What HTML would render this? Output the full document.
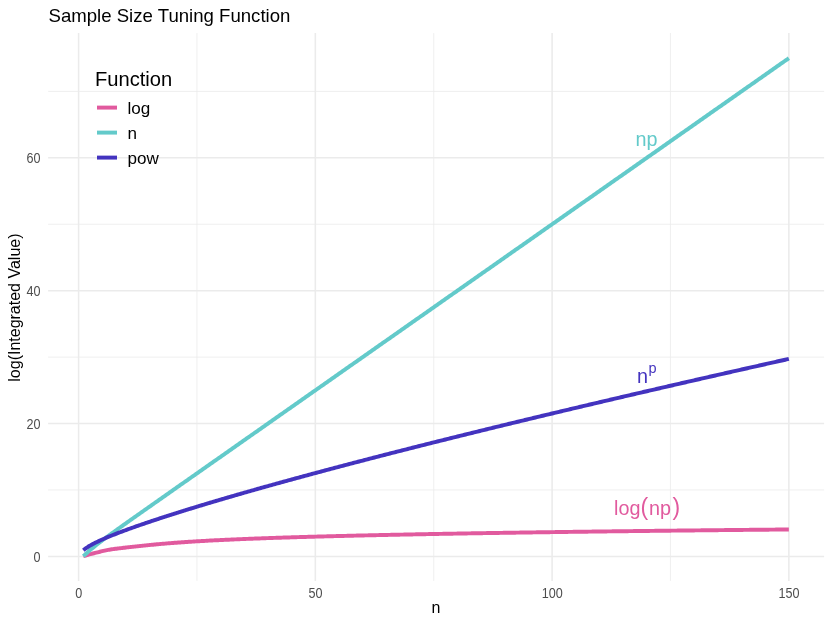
<!DOCTYPE html>
<html><head><meta charset="utf-8"><title>Sample Size Tuning Function</title>
<style>
html,body{margin:0;padding:0;background:#fff;}
body{width:832px;height:624px;overflow:hidden;font-family:"Liberation Sans",sans-serif;}
svg{display:block;will-change:transform;font-family:"Liberation Sans",sans-serif;}
</style></head><body>
<svg width="832" height="624" viewBox="0 0 832 624">
<rect width="832" height="624" fill="#ffffff"/>
<g id="grid" shape-rendering="auto">
<line x1="48.10" x2="824.10" y1="489.97" y2="489.97" stroke="#EBEBEB" stroke-width="0.78"/>
<line x1="48.10" x2="824.10" y1="357.11" y2="357.11" stroke="#EBEBEB" stroke-width="0.78"/>
<line x1="48.10" x2="824.10" y1="224.25" y2="224.25" stroke="#EBEBEB" stroke-width="0.78"/>
<line x1="48.10" x2="824.10" y1="91.39" y2="91.39" stroke="#EBEBEB" stroke-width="0.78"/>
<line x1="196.98" x2="196.98" y1="33.10" y2="580.90" stroke="#EBEBEB" stroke-width="0.78"/>
<line x1="433.73" x2="433.73" y1="33.10" y2="580.90" stroke="#EBEBEB" stroke-width="0.78"/>
<line x1="670.48" x2="670.48" y1="33.10" y2="580.90" stroke="#EBEBEB" stroke-width="0.78"/>
<line x1="48.10" x2="824.10" y1="556.40" y2="556.40" stroke="#EBEBEB" stroke-width="1.55"/>
<line x1="48.10" x2="824.10" y1="423.54" y2="423.54" stroke="#EBEBEB" stroke-width="1.55"/>
<line x1="48.10" x2="824.10" y1="290.68" y2="290.68" stroke="#EBEBEB" stroke-width="1.55"/>
<line x1="48.10" x2="824.10" y1="157.82" y2="157.82" stroke="#EBEBEB" stroke-width="1.55"/>
<line x1="78.60" x2="78.60" y1="33.10" y2="580.90" stroke="#EBEBEB" stroke-width="1.55"/>
<line x1="315.35" x2="315.35" y1="33.10" y2="580.90" stroke="#EBEBEB" stroke-width="1.55"/>
<line x1="552.10" x2="552.10" y1="33.10" y2="580.90" stroke="#EBEBEB" stroke-width="1.55"/>
<line x1="788.85" x2="788.85" y1="33.10" y2="580.90" stroke="#EBEBEB" stroke-width="1.55"/>
</g>
<g id="curves" fill="none" stroke-width="3.95" stroke-linejoin="round" stroke-linecap="butt">
<path d="M83.33 556.16 L84.52 555.89 L85.70 555.55 L86.89 555.19 L88.07 554.83 L89.25 554.48 L90.44 554.15 L91.62 553.83 L92.80 553.53 L93.99 553.24 L95.17 552.94 L96.36 552.65 L97.54 552.35 L98.72 552.05 L99.91 551.74 L101.09 551.44 L102.27 551.15 L103.46 550.86 L104.64 550.59 L105.83 550.34 L107.01 550.10 L108.19 549.88 L109.38 549.68 L110.56 549.49 L111.75 549.31 L112.93 549.14 L114.11 548.98 L115.30 548.82 L116.48 548.67 L117.66 548.52 L118.85 548.37 L120.03 548.23 L121.22 548.09 L122.40 547.95 L123.58 547.81 L124.77 547.67 L125.95 547.53 L127.13 547.40 L128.32 547.26 L129.50 547.13 L130.69 547.00 L131.87 546.86 L133.05 546.73 L134.24 546.60 L135.42 546.47 L136.60 546.34 L137.79 546.21 L138.97 546.09 L140.16 545.96 L141.34 545.84 L142.52 545.71 L143.71 545.59 L144.89 545.47 L146.07 545.35 L147.26 545.23 L148.44 545.11 L149.62 545.00 L150.81 544.88 L151.99 544.77 L153.18 544.66 L154.36 544.54 L155.54 544.43 L156.73 544.33 L157.91 544.22 L159.09 544.11 L160.28 544.01 L161.46 543.90 L162.65 543.80 L163.83 543.70 L165.01 543.60 L166.20 543.50 L167.38 543.40 L168.56 543.31 L169.75 543.21 L170.93 543.12 L172.12 543.03 L173.30 542.93 L174.48 542.84 L175.67 542.76 L176.85 542.67 L178.03 542.58 L179.22 542.49 L180.40 542.41 L181.59 542.33 L182.77 542.24 L183.95 542.16 L185.14 542.08 L186.32 542.00 L187.50 541.92 L188.69 541.84 L189.87 541.77 L191.06 541.69 L192.24 541.62 L193.42 541.54 L194.61 541.47 L195.79 541.40 L196.98 541.33 L198.16 541.25 L199.34 541.18 L200.53 541.12 L201.71 541.05 L202.89 540.98 L204.08 540.91 L205.26 540.85 L206.44 540.78 L207.63 540.72 L208.81 540.65 L210.00 540.59 L211.18 540.53 L212.36 540.46 L213.55 540.40 L214.73 540.34 L215.91 540.28 L217.10 540.22 L218.28 540.16 L219.47 540.11 L220.65 540.05 L221.83 539.99 L223.02 539.93 L224.20 539.88 L225.38 539.82 L226.57 539.77 L227.75 539.71 L228.94 539.66 L230.12 539.61 L231.30 539.55 L232.49 539.50 L233.67 539.45 L234.86 539.40 L236.04 539.35 L237.22 539.29 L238.41 539.24 L239.59 539.19 L240.77 539.14 L241.96 539.10 L243.14 539.05 L244.33 539.00 L245.51 538.95 L246.69 538.90 L247.88 538.86 L249.06 538.81 L250.24 538.76 L251.43 538.72 L252.61 538.67 L253.80 538.63 L254.98 538.58 L256.16 538.54 L257.35 538.49 L258.53 538.45 L259.71 538.41 L260.90 538.36 L262.08 538.32 L263.26 538.28 L264.45 538.23 L265.63 538.19 L266.82 538.15 L268.00 538.11 L269.18 538.07 L270.37 538.03 L271.55 537.99 L272.74 537.95 L273.92 537.90 L275.10 537.87 L276.29 537.83 L277.47 537.79 L278.65 537.75 L279.84 537.71 L281.02 537.67 L282.21 537.63 L283.39 537.59 L284.57 537.56 L285.76 537.52 L286.94 537.48 L288.12 537.44 L289.31 537.41 L290.49 537.37 L291.68 537.33 L292.86 537.30 L294.04 537.26 L295.23 537.22 L296.41 537.19 L297.59 537.15 L298.78 537.12 L299.96 537.08 L301.14 537.05 L302.33 537.01 L303.51 536.98 L304.70 536.94 L305.88 536.91 L307.06 536.88 L308.25 536.84 L309.43 536.81 L310.62 536.78 L311.80 536.74 L312.98 536.71 L314.17 536.68 L315.35 536.64 L316.53 536.61 L317.72 536.58 L318.90 536.55 L320.09 536.51 L321.27 536.48 L322.45 536.45 L323.64 536.42 L324.82 536.39 L326.00 536.36 L327.19 536.33 L328.37 536.29 L329.56 536.26 L330.74 536.23 L331.92 536.20 L333.11 536.17 L334.29 536.14 L335.47 536.11 L336.66 536.08 L337.84 536.05 L339.02 536.02 L340.21 535.99 L341.39 535.96 L342.58 535.93 L343.76 535.91 L344.94 535.88 L346.13 535.85 L347.31 535.82 L348.50 535.79 L349.68 535.76 L350.86 535.73 L352.05 535.71 L353.23 535.68 L354.41 535.65 L355.60 535.62 L356.78 535.59 L357.97 535.57 L359.15 535.54 L360.33 535.51 L361.52 535.48 L362.70 535.46 L363.88 535.43 L365.07 535.40 L366.25 535.38 L367.44 535.35 L368.62 535.32 L369.80 535.30 L370.99 535.27 L372.17 535.24 L373.35 535.22 L374.54 535.19 L375.72 535.17 L376.90 535.14 L378.09 535.11 L379.27 535.09 L380.46 535.06 L381.64 535.04 L382.82 535.01 L384.01 534.99 L385.19 534.96 L386.38 534.94 L387.56 534.91 L388.74 534.89 L389.93 534.86 L391.11 534.84 L392.29 534.81 L393.48 534.79 L394.66 534.76 L395.85 534.74 L397.03 534.71 L398.21 534.69 L399.40 534.67 L400.58 534.64 L401.76 534.62 L402.95 534.60 L404.13 534.57 L405.32 534.55 L406.50 534.52 L407.68 534.50 L408.87 534.48 L410.05 534.45 L411.23 534.43 L412.42 534.41 L413.60 534.38 L414.78 534.36 L415.97 534.34 L417.15 534.32 L418.34 534.29 L419.52 534.27 L420.70 534.25 L421.89 534.23 L423.07 534.20 L424.25 534.18 L425.44 534.16 L426.62 534.14 L427.81 534.11 L428.99 534.09 L430.17 534.07 L431.36 534.05 L432.54 534.03 L433.73 534.01 L434.91 533.98 L436.09 533.96 L437.28 533.94 L438.46 533.92 L439.64 533.90 L440.83 533.88 L442.01 533.85 L443.20 533.83 L444.38 533.81 L445.56 533.79 L446.75 533.77 L447.93 533.75 L449.11 533.73 L450.30 533.71 L451.48 533.69 L452.66 533.67 L453.85 533.65 L455.03 533.63 L456.22 533.61 L457.40 533.58 L458.58 533.56 L459.77 533.54 L460.95 533.52 L462.13 533.50 L463.32 533.48 L464.50 533.46 L465.69 533.44 L466.87 533.42 L468.05 533.40 L469.24 533.38 L470.42 533.36 L471.61 533.34 L472.79 533.33 L473.97 533.31 L475.16 533.29 L476.34 533.27 L477.52 533.25 L478.71 533.23 L479.89 533.21 L481.08 533.19 L482.26 533.17 L483.44 533.15 L484.63 533.13 L485.81 533.11 L486.99 533.09 L488.18 533.08 L489.36 533.06 L490.55 533.04 L491.73 533.02 L492.91 533.00 L494.10 532.98 L495.28 532.96 L496.46 532.94 L497.65 532.93 L498.83 532.91 L500.01 532.89 L501.20 532.87 L502.38 532.85 L503.57 532.83 L504.75 532.82 L505.93 532.80 L507.12 532.78 L508.30 532.76 L509.49 532.74 L510.67 532.73 L511.85 532.71 L513.04 532.69 L514.22 532.67 L515.40 532.66 L516.59 532.64 L517.77 532.62 L518.96 532.60 L520.14 532.58 L521.32 532.57 L522.51 532.55 L523.69 532.53 L524.87 532.52 L526.06 532.50 L527.24 532.48 L528.43 532.46 L529.61 532.45 L530.79 532.43 L531.98 532.41 L533.16 532.39 L534.34 532.38 L535.53 532.36 L536.71 532.34 L537.89 532.33 L539.08 532.31 L540.26 532.29 L541.45 532.28 L542.63 532.26 L543.81 532.24 L545.00 532.23 L546.18 532.21 L547.37 532.19 L548.55 532.18 L549.73 532.16 L550.92 532.14 L552.10 532.13 L553.28 532.11 L554.47 532.10 L555.65 532.08 L556.84 532.06 L558.02 532.05 L559.20 532.03 L560.39 532.01 L561.57 532.00 L562.75 531.98 L563.94 531.97 L565.12 531.95 L566.31 531.93 L567.49 531.92 L568.67 531.90 L569.86 531.89 L571.04 531.87 L572.22 531.86 L573.41 531.84 L574.59 531.82 L575.77 531.81 L576.96 531.79 L578.14 531.78 L579.33 531.76 L580.51 531.75 L581.69 531.73 L582.88 531.72 L584.06 531.70 L585.25 531.69 L586.43 531.67 L587.61 531.66 L588.80 531.64 L589.98 531.62 L591.16 531.61 L592.35 531.59 L593.53 531.58 L594.72 531.56 L595.90 531.55 L597.08 531.53 L598.27 531.52 L599.45 531.50 L600.63 531.49 L601.82 531.47 L603.00 531.46 L604.19 531.45 L605.37 531.43 L606.55 531.42 L607.74 531.40 L608.92 531.39 L610.10 531.37 L611.29 531.36 L612.47 531.34 L613.66 531.33 L614.84 531.31 L616.02 531.30 L617.21 531.29 L618.39 531.27 L619.57 531.26 L620.76 531.24 L621.94 531.23 L623.13 531.21 L624.31 531.20 L625.49 531.19 L626.68 531.17 L627.86 531.16 L629.04 531.14 L630.23 531.13 L631.41 531.11 L632.60 531.10 L633.78 531.09 L634.96 531.07 L636.15 531.06 L637.33 531.04 L638.51 531.03 L639.70 531.02 L640.88 531.00 L642.07 530.99 L643.25 530.98 L644.43 530.96 L645.62 530.95 L646.80 530.93 L647.98 530.92 L649.17 530.91 L650.35 530.89 L651.54 530.88 L652.72 530.87 L653.90 530.85 L655.09 530.84 L656.27 530.83 L657.45 530.81 L658.64 530.80 L659.82 530.79 L661.01 530.77 L662.19 530.76 L663.37 530.75 L664.56 530.73 L665.74 530.72 L666.92 530.71 L668.11 530.69 L669.29 530.68 L670.48 530.67 L671.66 530.65 L672.84 530.64 L674.03 530.63 L675.21 530.61 L676.39 530.60 L677.58 530.59 L678.76 530.58 L679.95 530.56 L681.13 530.55 L682.31 530.54 L683.50 530.52 L684.68 530.51 L685.86 530.50 L687.05 530.49 L688.23 530.47 L689.42 530.46 L690.60 530.45 L691.78 530.44 L692.97 530.42 L694.15 530.41 L695.33 530.40 L696.52 530.38 L697.70 530.37 L698.89 530.36 L700.07 530.35 L701.25 530.33 L702.44 530.32 L703.62 530.31 L704.80 530.30 L705.99 530.28 L707.17 530.27 L708.36 530.26 L709.54 530.25 L710.72 530.24 L711.91 530.22 L713.09 530.21 L714.27 530.20 L715.46 530.19 L716.64 530.17 L717.83 530.16 L719.01 530.15 L720.19 530.14 L721.38 530.13 L722.56 530.11 L723.74 530.10 L724.93 530.09 L726.11 530.08 L727.30 530.07 L728.48 530.05 L729.66 530.04 L730.85 530.03 L732.03 530.02 L733.21 530.01 L734.40 529.99 L735.58 529.98 L736.77 529.97 L737.95 529.96 L739.13 529.95 L740.32 529.94 L741.50 529.92 L742.68 529.91 L743.87 529.90 L745.05 529.89 L746.24 529.88 L747.42 529.86 L748.60 529.85 L749.79 529.84 L750.97 529.83 L752.15 529.82 L753.34 529.81 L754.52 529.80 L755.71 529.78 L756.89 529.77 L758.07 529.76 L759.26 529.75 L760.44 529.74 L761.62 529.73 L762.81 529.72 L763.99 529.70 L765.18 529.69 L766.36 529.68 L767.54 529.67 L768.73 529.66 L769.91 529.65 L771.09 529.64 L772.28 529.63 L773.46 529.61 L774.65 529.60 L775.83 529.59 L777.01 529.58 L778.20 529.57 L779.38 529.56 L780.56 529.55 L781.75 529.54 L782.93 529.53 L784.12 529.51 L785.30 529.50 L786.48 529.49 L787.67 529.48 L788.85 529.47" stroke="#E15A9E"/>
<path d="M83.33 556.27 L84.52 555.13 L85.70 554.03 L86.89 552.95 L88.07 551.89 L89.25 550.86 L90.44 549.85 L91.62 548.85 L92.80 547.87 L93.99 546.90 L95.17 545.95 L96.36 545.01 L97.54 544.07 L98.72 543.15 L99.91 542.24 L101.09 541.33 L102.27 540.44 L103.46 539.54 L104.64 538.66 L105.83 537.78 L107.01 536.90 L108.19 536.03 L109.38 535.16 L110.56 534.30 L111.75 533.44 L112.93 532.58 L114.11 531.73 L115.30 530.87 L116.48 530.02 L117.66 529.17 L118.85 528.33 L120.03 527.48 L121.22 526.64 L122.40 525.79 L123.58 524.95 L124.77 524.11 L125.95 523.27 L127.13 522.43 L128.32 521.60 L129.50 520.76 L130.69 519.92 L131.87 519.09 L133.05 518.25 L134.24 517.42 L135.42 516.58 L136.60 515.75 L137.79 514.91 L138.97 514.08 L140.16 513.25 L141.34 512.41 L142.52 511.58 L143.71 510.75 L144.89 509.92 L146.07 509.08 L147.26 508.25 L148.44 507.42 L149.62 506.59 L150.81 505.76 L151.99 504.93 L153.18 504.10 L154.36 503.26 L155.54 502.43 L156.73 501.60 L157.91 500.77 L159.09 499.94 L160.28 499.11 L161.46 498.28 L162.65 497.45 L163.83 496.62 L165.01 495.79 L166.20 494.96 L167.38 494.12 L168.56 493.29 L169.75 492.46 L170.93 491.63 L172.12 490.80 L173.30 489.97 L174.48 489.14 L175.67 488.31 L176.85 487.48 L178.03 486.65 L179.22 485.82 L180.40 484.99 L181.59 484.16 L182.77 483.33 L183.95 482.50 L185.14 481.67 L186.32 480.84 L187.50 480.01 L188.69 479.18 L189.87 478.35 L191.06 477.51 L192.24 476.68 L193.42 475.85 L194.61 475.02 L195.79 474.19 L196.98 473.36 L198.16 472.53 L199.34 471.70 L200.53 470.87 L201.71 470.04 L202.89 469.21 L204.08 468.38 L205.26 467.55 L206.44 466.72 L207.63 465.89 L208.81 465.06 L210.00 464.23 L211.18 463.40 L212.36 462.57 L213.55 461.74 L214.73 460.91 L215.91 460.08 L217.10 459.25 L218.28 458.42 L219.47 457.59 L220.65 456.76 L221.83 455.92 L223.02 455.09 L224.20 454.26 L225.38 453.43 L226.57 452.60 L227.75 451.77 L228.94 450.94 L230.12 450.11 L231.30 449.28 L232.49 448.45 L233.67 447.62 L234.86 446.79 L236.04 445.96 L237.22 445.13 L238.41 444.30 L239.59 443.47 L240.77 442.64 L241.96 441.81 L243.14 440.98 L244.33 440.15 L245.51 439.32 L246.69 438.49 L247.88 437.66 L249.06 436.83 L250.24 436.00 L251.43 435.17 L252.61 434.33 L253.80 433.50 L254.98 432.67 L256.16 431.84 L257.35 431.01 L258.53 430.18 L259.71 429.35 L260.90 428.52 L262.08 427.69 L263.26 426.86 L264.45 426.03 L265.63 425.20 L266.82 424.37 L268.00 423.54 L269.18 422.71 L270.37 421.88 L271.55 421.05 L272.74 420.22 L273.92 419.39 L275.10 418.56 L276.29 417.73 L277.47 416.90 L278.65 416.07 L279.84 415.24 L281.02 414.41 L282.21 413.58 L283.39 412.75 L284.57 411.91 L285.76 411.08 L286.94 410.25 L288.12 409.42 L289.31 408.59 L290.49 407.76 L291.68 406.93 L292.86 406.10 L294.04 405.27 L295.23 404.44 L296.41 403.61 L297.59 402.78 L298.78 401.95 L299.96 401.12 L301.14 400.29 L302.33 399.46 L303.51 398.63 L304.70 397.80 L305.88 396.97 L307.06 396.14 L308.25 395.31 L309.43 394.48 L310.62 393.65 L311.80 392.82 L312.98 391.99 L314.17 391.16 L315.35 390.33 L316.53 389.49 L317.72 388.66 L318.90 387.83 L320.09 387.00 L321.27 386.17 L322.45 385.34 L323.64 384.51 L324.82 383.68 L326.00 382.85 L327.19 382.02 L328.37 381.19 L329.56 380.36 L330.74 379.53 L331.92 378.70 L333.11 377.87 L334.29 377.04 L335.47 376.21 L336.66 375.38 L337.84 374.55 L339.02 373.72 L340.21 372.89 L341.39 372.06 L342.58 371.23 L343.76 370.40 L344.94 369.57 L346.13 368.74 L347.31 367.90 L348.50 367.07 L349.68 366.24 L350.86 365.41 L352.05 364.58 L353.23 363.75 L354.41 362.92 L355.60 362.09 L356.78 361.26 L357.97 360.43 L359.15 359.60 L360.33 358.77 L361.52 357.94 L362.70 357.11 L363.88 356.28 L365.07 355.45 L366.25 354.62 L367.44 353.79 L368.62 352.96 L369.80 352.13 L370.99 351.30 L372.17 350.47 L373.35 349.64 L374.54 348.81 L375.72 347.98 L376.90 347.15 L378.09 346.32 L379.27 345.48 L380.46 344.65 L381.64 343.82 L382.82 342.99 L384.01 342.16 L385.19 341.33 L386.38 340.50 L387.56 339.67 L388.74 338.84 L389.93 338.01 L391.11 337.18 L392.29 336.35 L393.48 335.52 L394.66 334.69 L395.85 333.86 L397.03 333.03 L398.21 332.20 L399.40 331.37 L400.58 330.54 L401.76 329.71 L402.95 328.88 L404.13 328.05 L405.32 327.22 L406.50 326.39 L407.68 325.56 L408.87 324.73 L410.05 323.90 L411.23 323.06 L412.42 322.23 L413.60 321.40 L414.78 320.57 L415.97 319.74 L417.15 318.91 L418.34 318.08 L419.52 317.25 L420.70 316.42 L421.89 315.59 L423.07 314.76 L424.25 313.93 L425.44 313.10 L426.62 312.27 L427.81 311.44 L428.99 310.61 L430.17 309.78 L431.36 308.95 L432.54 308.12 L433.73 307.29 L434.91 306.46 L436.09 305.63 L437.28 304.80 L438.46 303.97 L439.64 303.14 L440.83 302.31 L442.01 301.47 L443.20 300.64 L444.38 299.81 L445.56 298.98 L446.75 298.15 L447.93 297.32 L449.11 296.49 L450.30 295.66 L451.48 294.83 L452.66 294.00 L453.85 293.17 L455.03 292.34 L456.22 291.51 L457.40 290.68 L458.58 289.85 L459.77 289.02 L460.95 288.19 L462.13 287.36 L463.32 286.53 L464.50 285.70 L465.69 284.87 L466.87 284.04 L468.05 283.21 L469.24 282.38 L470.42 281.55 L471.61 280.72 L472.79 279.89 L473.97 279.05 L475.16 278.22 L476.34 277.39 L477.52 276.56 L478.71 275.73 L479.89 274.90 L481.08 274.07 L482.26 273.24 L483.44 272.41 L484.63 271.58 L485.81 270.75 L486.99 269.92 L488.18 269.09 L489.36 268.26 L490.55 267.43 L491.73 266.60 L492.91 265.77 L494.10 264.94 L495.28 264.11 L496.46 263.28 L497.65 262.45 L498.83 261.62 L500.01 260.79 L501.20 259.96 L502.38 259.13 L503.57 258.30 L504.75 257.46 L505.93 256.63 L507.12 255.80 L508.30 254.97 L509.49 254.14 L510.67 253.31 L511.85 252.48 L513.04 251.65 L514.22 250.82 L515.40 249.99 L516.59 249.16 L517.77 248.33 L518.96 247.50 L520.14 246.67 L521.32 245.84 L522.51 245.01 L523.69 244.18 L524.87 243.35 L526.06 242.52 L527.24 241.69 L528.43 240.86 L529.61 240.03 L530.79 239.20 L531.98 238.37 L533.16 237.54 L534.34 236.71 L535.53 235.88 L536.71 235.04 L537.89 234.21 L539.08 233.38 L540.26 232.55 L541.45 231.72 L542.63 230.89 L543.81 230.06 L545.00 229.23 L546.18 228.40 L547.37 227.57 L548.55 226.74 L549.73 225.91 L550.92 225.08 L552.10 224.25 L553.28 223.42 L554.47 222.59 L555.65 221.76 L556.84 220.93 L558.02 220.10 L559.20 219.27 L560.39 218.44 L561.57 217.61 L562.75 216.78 L563.94 215.95 L565.12 215.12 L566.31 214.29 L567.49 213.46 L568.67 212.62 L569.86 211.79 L571.04 210.96 L572.22 210.13 L573.41 209.30 L574.59 208.47 L575.77 207.64 L576.96 206.81 L578.14 205.98 L579.33 205.15 L580.51 204.32 L581.69 203.49 L582.88 202.66 L584.06 201.83 L585.25 201.00 L586.43 200.17 L587.61 199.34 L588.80 198.51 L589.98 197.68 L591.16 196.85 L592.35 196.02 L593.53 195.19 L594.72 194.36 L595.90 193.53 L597.08 192.70 L598.27 191.87 L599.45 191.03 L600.63 190.20 L601.82 189.37 L603.00 188.54 L604.19 187.71 L605.37 186.88 L606.55 186.05 L607.74 185.22 L608.92 184.39 L610.10 183.56 L611.29 182.73 L612.47 181.90 L613.66 181.07 L614.84 180.24 L616.02 179.41 L617.21 178.58 L618.39 177.75 L619.57 176.92 L620.76 176.09 L621.94 175.26 L623.13 174.43 L624.31 173.60 L625.49 172.77 L626.68 171.94 L627.86 171.11 L629.04 170.28 L630.23 169.45 L631.41 168.61 L632.60 167.78 L633.78 166.95 L634.96 166.12 L636.15 165.29 L637.33 164.46 L638.51 163.63 L639.70 162.80 L640.88 161.97 L642.07 161.14 L643.25 160.31 L644.43 159.48 L645.62 158.65 L646.80 157.82 L647.98 156.99 L649.17 156.16 L650.35 155.33 L651.54 154.50 L652.72 153.67 L653.90 152.84 L655.09 152.01 L656.27 151.18 L657.45 150.35 L658.64 149.52 L659.82 148.69 L661.01 147.86 L662.19 147.03 L663.37 146.19 L664.56 145.36 L665.74 144.53 L666.92 143.70 L668.11 142.87 L669.29 142.04 L670.48 141.21 L671.66 140.38 L672.84 139.55 L674.03 138.72 L675.21 137.89 L676.39 137.06 L677.58 136.23 L678.76 135.40 L679.95 134.57 L681.13 133.74 L682.31 132.91 L683.50 132.08 L684.68 131.25 L685.86 130.42 L687.05 129.59 L688.23 128.76 L689.42 127.93 L690.60 127.10 L691.78 126.27 L692.97 125.44 L694.15 124.61 L695.33 123.77 L696.52 122.94 L697.70 122.11 L698.89 121.28 L700.07 120.45 L701.25 119.62 L702.44 118.79 L703.62 117.96 L704.80 117.13 L705.99 116.30 L707.17 115.47 L708.36 114.64 L709.54 113.81 L710.72 112.98 L711.91 112.15 L713.09 111.32 L714.27 110.49 L715.46 109.66 L716.64 108.83 L717.83 108.00 L719.01 107.17 L720.19 106.34 L721.38 105.51 L722.56 104.68 L723.74 103.85 L724.93 103.02 L726.11 102.18 L727.30 101.35 L728.48 100.52 L729.66 99.69 L730.85 98.86 L732.03 98.03 L733.21 97.20 L734.40 96.37 L735.58 95.54 L736.77 94.71 L737.95 93.88 L739.13 93.05 L740.32 92.22 L741.50 91.39 L742.68 90.56 L743.87 89.73 L745.05 88.90 L746.24 88.07 L747.42 87.24 L748.60 86.41 L749.79 85.58 L750.97 84.75 L752.15 83.92 L753.34 83.09 L754.52 82.26 L755.71 81.43 L756.89 80.60 L758.07 79.76 L759.26 78.93 L760.44 78.10 L761.62 77.27 L762.81 76.44 L763.99 75.61 L765.18 74.78 L766.36 73.95 L767.54 73.12 L768.73 72.29 L769.91 71.46 L771.09 70.63 L772.28 69.80 L773.46 68.97 L774.65 68.14 L775.83 67.31 L777.01 66.48 L778.20 65.65 L779.38 64.82 L780.56 63.99 L781.75 63.16 L782.93 62.33 L784.12 61.50 L785.30 60.67 L786.48 59.84 L787.67 59.01 L788.85 58.18" stroke="#63CACA"/>
<path d="M83.33 550.21 L84.52 549.24 L85.70 548.36 L86.89 547.55 L88.07 546.78 L89.25 546.05 L90.44 545.36 L91.62 544.69 L92.80 544.05 L93.99 543.43 L95.17 542.83 L96.36 542.24 L97.54 541.66 L98.72 541.10 L99.91 540.55 L101.09 540.01 L102.27 539.48 L103.46 538.96 L104.64 538.44 L105.83 537.94 L107.01 537.44 L108.19 536.94 L109.38 536.45 L110.56 535.97 L111.75 535.49 L112.93 535.02 L114.11 534.55 L115.30 534.08 L116.48 533.62 L117.66 533.17 L118.85 532.71 L120.03 532.26 L121.22 531.81 L122.40 531.37 L123.58 530.93 L124.77 530.49 L125.95 530.05 L127.13 529.62 L128.32 529.19 L129.50 528.76 L130.69 528.33 L131.87 527.91 L133.05 527.49 L134.24 527.07 L135.42 526.65 L136.60 526.23 L137.79 525.82 L138.97 525.41 L140.16 525.00 L141.34 524.59 L142.52 524.18 L143.71 523.77 L144.89 523.37 L146.07 522.96 L147.26 522.56 L148.44 522.16 L149.62 521.76 L150.81 521.37 L151.99 520.97 L153.18 520.58 L154.36 520.18 L155.54 519.79 L156.73 519.40 L157.91 519.01 L159.09 518.62 L160.28 518.23 L161.46 517.85 L162.65 517.46 L163.83 517.08 L165.01 516.69 L166.20 516.31 L167.38 515.93 L168.56 515.55 L169.75 515.17 L170.93 514.79 L172.12 514.41 L173.30 514.04 L174.48 513.66 L175.67 513.29 L176.85 512.91 L178.03 512.54 L179.22 512.17 L180.40 511.80 L181.59 511.42 L182.77 511.06 L183.95 510.69 L185.14 510.32 L186.32 509.95 L187.50 509.58 L188.69 509.22 L189.87 508.85 L191.06 508.49 L192.24 508.13 L193.42 507.76 L194.61 507.40 L195.79 507.04 L196.98 506.68 L198.16 506.32 L199.34 505.96 L200.53 505.60 L201.71 505.24 L202.89 504.88 L204.08 504.53 L205.26 504.17 L206.44 503.82 L207.63 503.46 L208.81 503.11 L210.00 502.75 L211.18 502.40 L212.36 502.05 L213.55 501.69 L214.73 501.34 L215.91 500.99 L217.10 500.64 L218.28 500.29 L219.47 499.94 L220.65 499.59 L221.83 499.24 L223.02 498.90 L224.20 498.55 L225.38 498.20 L226.57 497.86 L227.75 497.51 L228.94 497.17 L230.12 496.82 L231.30 496.48 L232.49 496.13 L233.67 495.79 L234.86 495.45 L236.04 495.11 L237.22 494.76 L238.41 494.42 L239.59 494.08 L240.77 493.74 L241.96 493.40 L243.14 493.06 L244.33 492.72 L245.51 492.38 L246.69 492.05 L247.88 491.71 L249.06 491.37 L250.24 491.03 L251.43 490.70 L252.61 490.36 L253.80 490.03 L254.98 489.69 L256.16 489.36 L257.35 489.02 L258.53 488.69 L259.71 488.35 L260.90 488.02 L262.08 487.69 L263.26 487.35 L264.45 487.02 L265.63 486.69 L266.82 486.36 L268.00 486.03 L269.18 485.70 L270.37 485.37 L271.55 485.04 L272.74 484.71 L273.92 484.38 L275.10 484.05 L276.29 483.72 L277.47 483.39 L278.65 483.06 L279.84 482.74 L281.02 482.41 L282.21 482.08 L283.39 481.76 L284.57 481.43 L285.76 481.11 L286.94 480.78 L288.12 480.45 L289.31 480.13 L290.49 479.81 L291.68 479.48 L292.86 479.16 L294.04 478.83 L295.23 478.51 L296.41 478.19 L297.59 477.86 L298.78 477.54 L299.96 477.22 L301.14 476.90 L302.33 476.58 L303.51 476.26 L304.70 475.94 L305.88 475.62 L307.06 475.29 L308.25 474.98 L309.43 474.66 L310.62 474.34 L311.80 474.02 L312.98 473.70 L314.17 473.38 L315.35 473.06 L316.53 472.74 L317.72 472.43 L318.90 472.11 L320.09 471.79 L321.27 471.47 L322.45 471.16 L323.64 470.84 L324.82 470.53 L326.00 470.21 L327.19 469.89 L328.37 469.58 L329.56 469.26 L330.74 468.95 L331.92 468.64 L333.11 468.32 L334.29 468.01 L335.47 467.69 L336.66 467.38 L337.84 467.07 L339.02 466.75 L340.21 466.44 L341.39 466.13 L342.58 465.82 L343.76 465.50 L344.94 465.19 L346.13 464.88 L347.31 464.57 L348.50 464.26 L349.68 463.95 L350.86 463.64 L352.05 463.33 L353.23 463.02 L354.41 462.71 L355.60 462.40 L356.78 462.09 L357.97 461.78 L359.15 461.47 L360.33 461.16 L361.52 460.85 L362.70 460.54 L363.88 460.24 L365.07 459.93 L366.25 459.62 L367.44 459.31 L368.62 459.01 L369.80 458.70 L370.99 458.39 L372.17 458.09 L373.35 457.78 L374.54 457.47 L375.72 457.17 L376.90 456.86 L378.09 456.56 L379.27 456.25 L380.46 455.95 L381.64 455.64 L382.82 455.34 L384.01 455.03 L385.19 454.73 L386.38 454.42 L387.56 454.12 L388.74 453.82 L389.93 453.51 L391.11 453.21 L392.29 452.91 L393.48 452.60 L394.66 452.30 L395.85 452.00 L397.03 451.70 L398.21 451.39 L399.40 451.09 L400.58 450.79 L401.76 450.49 L402.95 450.19 L404.13 449.89 L405.32 449.59 L406.50 449.29 L407.68 448.99 L408.87 448.68 L410.05 448.38 L411.23 448.08 L412.42 447.78 L413.60 447.48 L414.78 447.19 L415.97 446.89 L417.15 446.59 L418.34 446.29 L419.52 445.99 L420.70 445.69 L421.89 445.39 L423.07 445.09 L424.25 444.80 L425.44 444.50 L426.62 444.20 L427.81 443.90 L428.99 443.61 L430.17 443.31 L431.36 443.01 L432.54 442.71 L433.73 442.42 L434.91 442.12 L436.09 441.82 L437.28 441.53 L438.46 441.23 L439.64 440.94 L440.83 440.64 L442.01 440.35 L443.20 440.05 L444.38 439.75 L445.56 439.46 L446.75 439.16 L447.93 438.87 L449.11 438.58 L450.30 438.28 L451.48 437.99 L452.66 437.69 L453.85 437.40 L455.03 437.10 L456.22 436.81 L457.40 436.52 L458.58 436.22 L459.77 435.93 L460.95 435.64 L462.13 435.34 L463.32 435.05 L464.50 434.76 L465.69 434.47 L466.87 434.17 L468.05 433.88 L469.24 433.59 L470.42 433.30 L471.61 433.01 L472.79 432.72 L473.97 432.42 L475.16 432.13 L476.34 431.84 L477.52 431.55 L478.71 431.26 L479.89 430.97 L481.08 430.68 L482.26 430.39 L483.44 430.10 L484.63 429.81 L485.81 429.52 L486.99 429.23 L488.18 428.94 L489.36 428.65 L490.55 428.36 L491.73 428.07 L492.91 427.78 L494.10 427.49 L495.28 427.20 L496.46 426.92 L497.65 426.63 L498.83 426.34 L500.01 426.05 L501.20 425.76 L502.38 425.47 L503.57 425.19 L504.75 424.90 L505.93 424.61 L507.12 424.32 L508.30 424.04 L509.49 423.75 L510.67 423.46 L511.85 423.17 L513.04 422.89 L514.22 422.60 L515.40 422.31 L516.59 422.03 L517.77 421.74 L518.96 421.46 L520.14 421.17 L521.32 420.88 L522.51 420.60 L523.69 420.31 L524.87 420.03 L526.06 419.74 L527.24 419.46 L528.43 419.17 L529.61 418.89 L530.79 418.60 L531.98 418.32 L533.16 418.03 L534.34 417.75 L535.53 417.46 L536.71 417.18 L537.89 416.89 L539.08 416.61 L540.26 416.33 L541.45 416.04 L542.63 415.76 L543.81 415.47 L545.00 415.19 L546.18 414.91 L547.37 414.62 L548.55 414.34 L549.73 414.06 L550.92 413.78 L552.10 413.49 L553.28 413.21 L554.47 412.93 L555.65 412.64 L556.84 412.36 L558.02 412.08 L559.20 411.80 L560.39 411.52 L561.57 411.23 L562.75 410.95 L563.94 410.67 L565.12 410.39 L566.31 410.11 L567.49 409.83 L568.67 409.55 L569.86 409.26 L571.04 408.98 L572.22 408.70 L573.41 408.42 L574.59 408.14 L575.77 407.86 L576.96 407.58 L578.14 407.30 L579.33 407.02 L580.51 406.74 L581.69 406.46 L582.88 406.18 L584.06 405.90 L585.25 405.62 L586.43 405.34 L587.61 405.06 L588.80 404.78 L589.98 404.50 L591.16 404.22 L592.35 403.95 L593.53 403.67 L594.72 403.39 L595.90 403.11 L597.08 402.83 L598.27 402.55 L599.45 402.27 L600.63 402.00 L601.82 401.72 L603.00 401.44 L604.19 401.16 L605.37 400.88 L606.55 400.61 L607.74 400.33 L608.92 400.05 L610.10 399.77 L611.29 399.50 L612.47 399.22 L613.66 398.94 L614.84 398.66 L616.02 398.39 L617.21 398.11 L618.39 397.83 L619.57 397.56 L620.76 397.28 L621.94 397.00 L623.13 396.73 L624.31 396.45 L625.49 396.18 L626.68 395.90 L627.86 395.62 L629.04 395.35 L630.23 395.07 L631.41 394.80 L632.60 394.52 L633.78 394.25 L634.96 393.97 L636.15 393.69 L637.33 393.42 L638.51 393.14 L639.70 392.87 L640.88 392.59 L642.07 392.32 L643.25 392.05 L644.43 391.77 L645.62 391.50 L646.80 391.22 L647.98 390.95 L649.17 390.67 L650.35 390.40 L651.54 390.12 L652.72 389.85 L653.90 389.58 L655.09 389.30 L656.27 389.03 L657.45 388.76 L658.64 388.48 L659.82 388.21 L661.01 387.94 L662.19 387.66 L663.37 387.39 L664.56 387.12 L665.74 386.84 L666.92 386.57 L668.11 386.30 L669.29 386.02 L670.48 385.75 L671.66 385.48 L672.84 385.21 L674.03 384.93 L675.21 384.66 L676.39 384.39 L677.58 384.12 L678.76 383.85 L679.95 383.57 L681.13 383.30 L682.31 383.03 L683.50 382.76 L684.68 382.49 L685.86 382.22 L687.05 381.94 L688.23 381.67 L689.42 381.40 L690.60 381.13 L691.78 380.86 L692.97 380.59 L694.15 380.32 L695.33 380.05 L696.52 379.78 L697.70 379.51 L698.89 379.24 L700.07 378.96 L701.25 378.69 L702.44 378.42 L703.62 378.15 L704.80 377.88 L705.99 377.61 L707.17 377.34 L708.36 377.07 L709.54 376.80 L710.72 376.53 L711.91 376.26 L713.09 375.99 L714.27 375.73 L715.46 375.46 L716.64 375.19 L717.83 374.92 L719.01 374.65 L720.19 374.38 L721.38 374.11 L722.56 373.84 L723.74 373.57 L724.93 373.30 L726.11 373.03 L727.30 372.77 L728.48 372.50 L729.66 372.23 L730.85 371.96 L732.03 371.69 L733.21 371.42 L734.40 371.16 L735.58 370.89 L736.77 370.62 L737.95 370.35 L739.13 370.08 L740.32 369.82 L741.50 369.55 L742.68 369.28 L743.87 369.01 L745.05 368.75 L746.24 368.48 L747.42 368.21 L748.60 367.94 L749.79 367.68 L750.97 367.41 L752.15 367.14 L753.34 366.88 L754.52 366.61 L755.71 366.34 L756.89 366.08 L758.07 365.81 L759.26 365.54 L760.44 365.28 L761.62 365.01 L762.81 364.74 L763.99 364.48 L765.18 364.21 L766.36 363.94 L767.54 363.68 L768.73 363.41 L769.91 363.15 L771.09 362.88 L772.28 362.62 L773.46 362.35 L774.65 362.08 L775.83 361.82 L777.01 361.55 L778.20 361.29 L779.38 361.02 L780.56 360.76 L781.75 360.49 L782.93 360.23 L784.12 359.96 L785.30 359.70 L786.48 359.43 L787.67 359.17 L788.85 358.90" stroke="#4333BF"/>
</g>
<g id="labels" font-size="19.8">
<text x="646.5" y="146" text-anchor="middle" fill="#63CACA">np</text>
<text x="637.0" y="382.9" fill="#4333BF">n<tspan dy="-10.2" dx="0.6" font-size="14.5">p</tspan></text>
<text x="614" y="514.8" fill="#E15A9E">log<tspan font-size="23" dy="-0.1">(</tspan><tspan dy="0.1" dx="0.85">np</tspan><tspan font-size="23" dy="-0.1" dx="1.5">)</tspan></text>
</g>
<g id="legend">
<text x="95" y="85.7" font-size="20.15" fill="#000">Function</text>
<line x1="97" x2="117" y1="107.6" y2="107.6" stroke="#E15A9E" stroke-width="3.95"/>
<line x1="97" x2="117" y1="132.6" y2="132.6" stroke="#63CACA" stroke-width="3.95"/>
<line x1="97" x2="117" y1="157.6" y2="157.6" stroke="#4333BF" stroke-width="3.95"/>
<text x="127.5" y="114.1" font-size="17.07" fill="#000">log</text>
<text x="127.5" y="139.1" font-size="17.07" fill="#000">n</text>
<text x="127.5" y="164.1" font-size="17.07" fill="#000">pow</text>
</g>
<g id="axes">
<text transform="translate(40.6,561.65) scale(0.985,1.09)" text-anchor="end" font-size="12.8" fill="#4D4D4D">0</text>
<text transform="translate(40.6,428.79) scale(0.985,1.09)" text-anchor="end" font-size="12.8" fill="#4D4D4D">20</text>
<text transform="translate(40.6,295.93) scale(0.985,1.09)" text-anchor="end" font-size="12.8" fill="#4D4D4D">40</text>
<text transform="translate(40.6,163.07) scale(0.985,1.09)" text-anchor="end" font-size="12.8" fill="#4D4D4D">60</text>
<text transform="translate(78.70,598.2) scale(0.985,1.09)" text-anchor="middle" font-size="12.8" fill="#4D4D4D">0</text>
<text transform="translate(315.45,598.2) scale(0.985,1.09)" text-anchor="middle" font-size="12.8" fill="#4D4D4D">50</text>
<text transform="translate(552.20,598.2) scale(0.985,1.09)" text-anchor="middle" font-size="12.8" fill="#4D4D4D">100</text>
<text transform="translate(788.95,598.2) scale(0.985,1.09)" text-anchor="middle" font-size="12.8" fill="#4D4D4D">150</text>
<text x="436" y="612.5" text-anchor="middle" font-size="16" fill="#000">n</text>
<text transform="translate(19.5,307.6) rotate(-90)" text-anchor="middle" font-size="16" fill="#000">log(Integrated Value)</text>
</g>
<text x="48.5" y="21.7" font-size="18.6" fill="#000">Sample Size Tuning Function</text>
</svg>
</body></html>
